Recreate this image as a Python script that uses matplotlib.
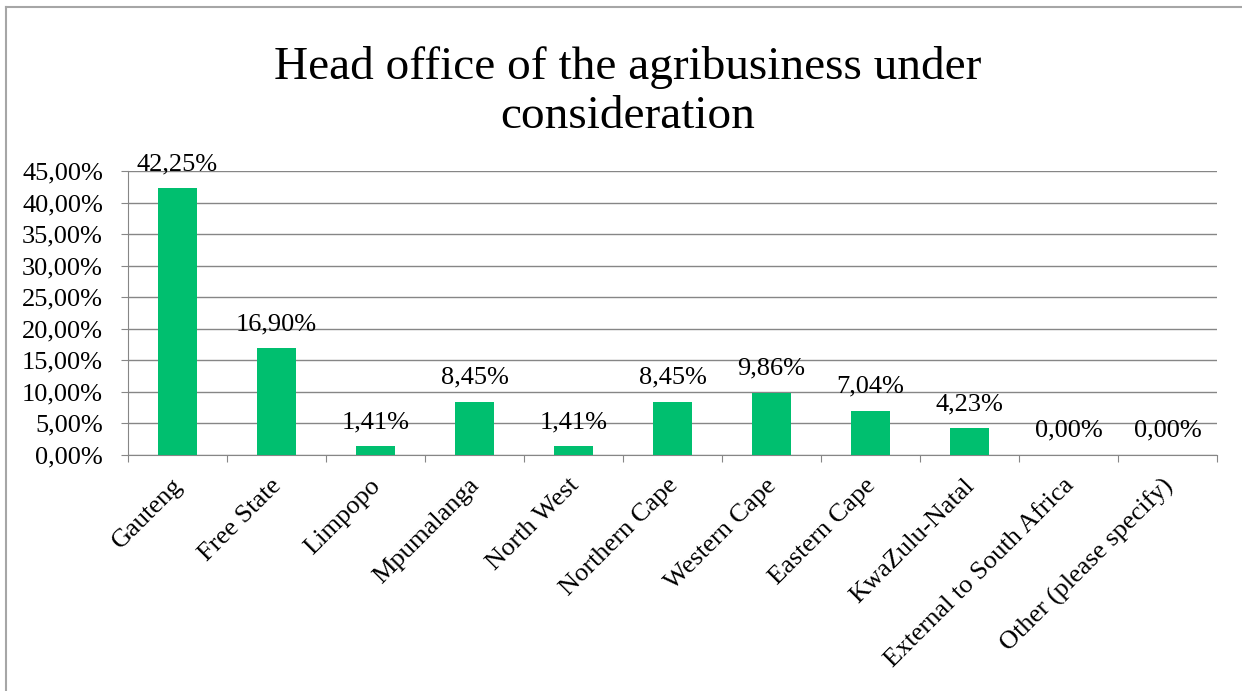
import matplotlib.pyplot as plt
from matplotlib.lines import Line2D
from matplotlib.ticker import FuncFormatter
from matplotlib.transforms import ScaledTranslation

categories = ["Gauteng", "Free State", "Limpopo", "Mpumalanga", "North West",
              "Northern Cape", "Western Cape", "Eastern Cape", "KwaZulu-Natal",
              "External to South Africa", "Other (please specify)"]
shares = [42.25, 16.90, 1.41, 8.45, 1.41, 8.45, 9.86, 7.04, 4.23, 0.00, 0.00]
y_ticks = [0, 5, 10, 15, 20, 25, 30, 35, 40, 45]

plt.rcParams['font.family'] = ['Liberation Serif', 'DejaVu Serif']

GRID = "#868686"
BAR = "#00BF6F"
FS = 19

def pct(v):
    return "{:.2f}%".format(v).replace(".", ",")

fig = plt.figure(figsize=(12.42, 6.91), dpi=100)
ax = fig.add_axes([128 / 1242, 1 - 455 / 691, (1217 - 128) / 1242, (455 - 171) / 691])

x = list(range(len(categories)))
ax.bar(x, shares, width=0.4, color=BAR, zorder=3)
for xi, v in zip(x, shares):
    ax.annotate(pct(v), (xi, v), xytext=(0, 13), textcoords="offset points",
                ha="center", va="baseline", fontsize=FS, color="black",
                annotation_clip=False)

ax.set_xlim(-0.5, len(categories) - 0.5)
ax.set_ylim(0, 45)
ax.set_yticks(y_ticks)
ax.yaxis.set_major_formatter(FuncFormatter(lambda v, p: pct(v)))
ax.grid(axis="y", color=GRID, linewidth=1, zorder=0)

# category ticks sit between the bars, names are centred under them
ax.set_xticks([i - 0.5 for i in range(len(categories) + 1)])
ax.set_xticklabels([])
ax.set_xticks(x, minor=True)
ax.set_xticklabels(categories, minor=True, rotation=45, ha="right",
                   rotation_mode="anchor", fontsize=FS)
ax.tick_params(axis="x", which="minor", length=0, pad=14)
ax.tick_params(axis="x", which="major", length=5, color=GRID)
ax.tick_params(axis="y", length=5, color=GRID, labelsize=FS, pad=13)

# nudge the slanted names a little to the left
nudge = ScaledTranslation(-0.06, 0, fig.dpi_scale_trans)
for lbl in ax.get_xticklabels(minor=True):
    lbl.set_transform(lbl.get_transform() + nudge)

for side in ["top", "right"]:
    ax.spines[side].set_visible(False)
for side in ["left", "bottom"]:
    ax.spines[side].set_color(GRID)

fig.text(0.505, 0.934, "Head office of the agribusiness under\nconsideration",
         ha="center", va="top", fontsize=34, linespacing=1.2)

# outer frame on the top and left edges
fig.add_artist(Line2D([6 / 1242, 6 / 1242], [0, 1 - 7 / 691], transform=fig.transFigure,
                      color="#A6A6A6", linewidth=1.5))
fig.add_artist(Line2D([6 / 1242, 1], [1 - 7 / 691, 1 - 7 / 691], transform=fig.transFigure,
                      color="#A6A6A6", linewidth=1.5))

fig.savefig("out.png", dpi=100)
